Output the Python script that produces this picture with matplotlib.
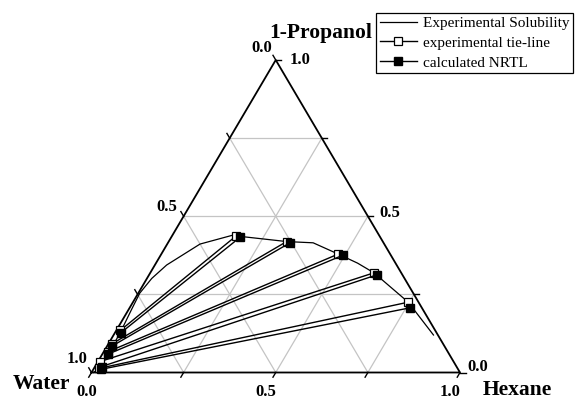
import matplotlib
matplotlib.use("Agg")
import matplotlib.pyplot as plt
from matplotlib.lines import Line2D

plt.rcParams['font.family'] = ['Liberation Serif', 'DejaVu Serif']

# Experimental solubility (binodal) curve: hexane and 1-propanol mass fractions
sol_hexane = [0.005, 0.014, 0.016, 0.014, 0.008, 0.004, 0.013, 0.032, 0.089, 0.165,
              0.174, 0.320, 0.394, 0.480, 0.547, 0.607, 0.747, 0.868]
sol_propanol = [0.000, 0.010, 0.060, 0.130, 0.200, 0.254, 0.301, 0.344, 0.411, 0.440,
                0.437, 0.419, 0.415, 0.379, 0.350, 0.319, 0.225, 0.120]

# Experimental tie-lines (aqueous phase / organic phase)
exp_aq_hexane = [0.011, 0.009, 0.011, 0.006, 0.013]
exp_aq_propanol = [0.135, 0.091, 0.066, 0.035, 0.013]
exp_org_hexane = [0.174, 0.320, 0.480, 0.607, 0.747]
exp_org_propanol = [0.437, 0.419, 0.379, 0.319, 0.225]

# NRTL-calculated tie-lines
calc_aq_hexane = [0.016, 0.013, 0.016, 0.018, 0.020]
calc_aq_propanol = [0.127, 0.084, 0.059, 0.019, 0.010]
calc_org_hexane = [0.187, 0.331, 0.494, 0.619, 0.761]
calc_org_propanol = [0.433, 0.415, 0.375, 0.313, 0.207]

grid_levels = [0.25, 0.5, 0.75]
tick_levels = [0.0, 0.25, 0.5, 0.75, 1.0]


def to_xy(h, p):
    """Ternary (hexane, propanol) -> cartesian plot coordinates."""
    return [a + b / 2.0 for a, b in zip(h, p)], list(p)


W, H = 577, 403
fig = plt.figure(figsize=(W / 100, H / 100), dpi=100)
x0, y0, xw, yh = 91.5, 372.5, 368.5, 312.5
ax = fig.add_axes([x0 / W, (H - y0) / H, xw / W, yh / H])
ax.set_xlim(0, 1)
ax.set_ylim(0, 1)
ax.axis('off')

grid_kw = dict(color='#c4c4c4', lw=0.9, zorder=1, clip_on=False)
for t in grid_levels:
    ax.plot(*to_xy([0, 1 - t], [t, t]), **grid_kw)          # constant 1-propanol
    ax.plot(*to_xy([t, t], [0, 1 - t]), **grid_kw)          # constant hexane
    ax.plot(*to_xy([1 - t, 0], [0, 1 - t]), **grid_kw)      # constant water

# triangle frame
ax.plot(*to_xy([0, 1, 0, 0], [0, 0, 1, 0]), color='black', lw=1.3, zorder=3,
        clip_on=False, solid_joinstyle='miter')

# tick marks as short outward extensions of the grid directions
d = 0.015
tick_kw = dict(color='black', lw=1.0, zorder=3, clip_on=False)
for t in tick_levels:
    ax.plot(*to_xy([t, t], [0, -d]), **tick_kw)                      # hexane axis
    ax.plot(*to_xy([1 - t, 1 - t + d], [t, t]), **tick_kw)           # propanol axis
    ax.plot(*to_xy([0, -d], [1 - t, 1 - t + d]), **tick_kw)          # water axis

# solubility curve
ax.plot(*to_xy(sol_hexane, sol_propanol), color='black', lw=0.9, zorder=4,
        clip_on=False)

ms = 6
for i in range(len(exp_aq_hexane)):
    ax.plot(*to_xy([exp_aq_hexane[i], exp_org_hexane[i]],
                   [exp_aq_propanol[i], exp_org_propanol[i]]),
            color='black', lw=1.0, marker='s', ms=ms, mfc='white', mec='black',
            mew=0.9, zorder=5, clip_on=False)
for i in range(len(calc_aq_hexane)):
    ax.plot(*to_xy([calc_aq_hexane[i], calc_org_hexane[i]],
                   [calc_aq_propanol[i], calc_org_propanol[i]]),
            color='black', lw=1.0, marker='s', ms=ms, mfc='black', mec='black',
            zorder=6, clip_on=False)


def put(px, py, s, size):
    ax.text((px - x0) / xw, (y0 - py) / yh, s, ha='center', va='center',
            fontsize=size, fontweight='bold', clip_on=False)


num = 12
big = 15.5
put(321, 33, '1-Propanol', big)
put(261.5, 48, '0.0', num)
put(300, 60, '1.0', num)
put(166.7, 207, '0.5', num)
put(390, 213, '0.5', num)
put(76.7, 359, '1.0', num)
put(41, 384, 'Water', big)
put(87, 392, '0.0', num)
put(266, 392, '0.5', num)
put(450, 392.5, '1.0', num)
put(517, 390, 'Hexane', big)
put(478, 367, '0.0', num)

handles = [
    Line2D([], [], color='black', lw=0.9),
    Line2D([], [], color='black', lw=1.0, marker='s', ms=ms, mfc='white', mec='black', mew=0.9),
    Line2D([], [], color='black', lw=1.0, marker='s', ms=ms, mfc='black', mec='black'),
]
labels = ['Experimental Solubility', 'experimental tie-line', 'calculated NRTL']
leg = fig.legend(handles, labels, loc='upper right',
                 bbox_to_anchor=(573 / W, 1 - 12.5 / H), bbox_transform=fig.transFigure,
                 frameon=True, fancybox=False, edgecolor='black', framealpha=1,
                 fontsize=11, handlelength=2.4, handletextpad=0.4,
                 labelspacing=0.4, borderpad=0.25, borderaxespad=0)
leg.get_frame().set_linewidth(0.9)

fig.savefig('out.png', dpi=100)
